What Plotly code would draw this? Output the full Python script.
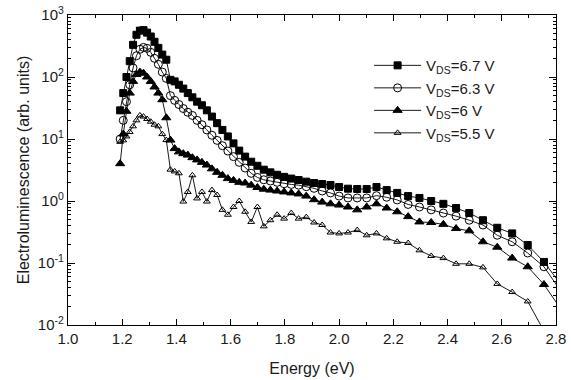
import plotly.graph_objects as go

# Photon energy (eV)
energy = [1.1923, 1.2039, 1.2157, 1.2277, 1.2400, 1.2525, 1.2653, 1.2784, 1.2917, 1.3053,
          1.3191, 1.3333, 1.3478, 1.3626, 1.3778, 1.3933, 1.4091, 1.4253, 1.4419, 1.4588,
          1.4762, 1.4940, 1.5122, 1.5309, 1.5500, 1.5696, 1.5897, 1.6104, 1.6316, 1.6533,
          1.6757, 1.6986, 1.7222, 1.7465, 1.7714, 1.7971, 1.8235, 1.8507, 1.8788, 1.9077,
          1.9375, 1.9683, 2.0000, 2.0328, 2.0667, 2.1017, 2.1379, 2.1754, 2.2143, 2.2545,
          2.2963, 2.3396, 2.3846, 2.4314, 2.4800, 2.5306, 2.5833, 2.6383, 2.6957, 2.7556,
          2.8182]

el_67 = [29, 55, 100, 180, 330, 480, 560, 570, 520, 450,
         370, 295, 230, 190, 90, 85, 75, 65, 55, 47,
         40, 35, 29, 23, 18, 14, 11, 8.5, 6.5, 5.2,
         4.3, 3.7, 3.2, 2.9, 2.65, 2.45, 2.3, 2.18, 2.05, 1.95,
         1.88, 1.81, 1.68, 1.58, 1.56, 1.56, 1.68, 1.5, 1.35, 1.2,
         1.12, 1.0, 0.9, 0.77, 0.64, 0.49, 0.37, 0.30, 0.195, 0.104,
         0.045]

el_63 = [10, 20, 40, 75, 140, 220, 280, 300, 290, 250,
         200, 160, 120, 95, 50, 42, 36, 31, 27, 24,
         20, 17, 14, 11.5, 9.5, 7.8, 6.4, 5.2, 4.2, 3.4,
         2.8, 2.4, 2.2, 2.1, 2.0, 1.9, 1.85, 1.8, 1.7, 1.6,
         1.45, 1.35, 1.2, 1.12, 1.12, 1.12, 1.22, 1.15, 1.04, 0.88,
         0.8, 0.72, 0.64, 0.57, 0.49, 0.41, 0.28, 0.22, 0.145, 0.087,
         0.035]

el_60 = [4.0, 12, 28, 55, 85, 110, 120, 115, 100, 85,
         69, 55, 43, 22, 9.6, 7.0, 6.2, 5.8, 5.5, 5.0,
         4.6, 4.2, 3.8, 3.3, 2.9, 2.6, 2.3, 2.15, 2.0, 1.95,
         1.8, 1.65, 1.55, 1.5, 1.45, 1.4, 1.35, 1.3, 1.2, 1.05,
         0.96, 0.9, 0.86, 0.8, 0.72, 0.8, 0.9, 0.77, 0.67, 0.56,
         0.46, 0.45, 0.42, 0.36, 0.33, 0.22, 0.18, 0.12, 0.087, 0.045,
         0.018]

el_55 = [9.0, 9.5, 11, 13, 16, 20, 24, 23, 21, 19,
         17, 16, 12, 9.6, 3.2, 3.0, 2.8, 0.98, 1.4, 2.6,
         1.1, 1.4, 0.98, 1.5, 1.25, 0.72, 0.6, 0.8, 1.0, 0.67,
         0.46, 0.8, 0.39, 0.49, 0.6, 0.52, 0.64, 0.52, 0.55, 0.45,
         0.41, 0.31, 0.30, 0.31, 0.34, 0.28, 0.30, 0.25, 0.22, 0.21,
         0.16, 0.13, 0.12, 0.097, 0.097, 0.085, 0.046, 0.034, 0.024, 0.008,
         0.005]

names = ["V<sub>DS</sub>=6.7 V", "V<sub>DS</sub>=6.3 V", "V<sub>DS</sub>=6 V", "V<sub>DS</sub>=5.5 V"]

y_tickvals = [0.01, 0.1, 1, 10, 100, 1000]
y_ticktext = ["10<sup>-2</sup>", "10<sup>-1</sup>", "10<sup>0</sup>", "10<sup>1</sup>", "10<sup>2</sup>", "10<sup>3</sup>"]

series = [
    (el_67, "square", "black", 7),
    (el_63, "circle-open", "black", 8),
    (el_60, "triangle-up", "black", 8),
    (el_55, "triangle-up-open", "black", 6),
]

fig = go.Figure()
for (vals, sym, col, size), nm in zip(series, names):
    fig.add_trace(go.Scatter(
        x=energy, y=vals, name=nm, mode="lines+markers",
        line=dict(color="black", width=0.9),
        marker=dict(symbol=sym, size=size, color=col,
                    line=dict(color="black", width=1)),
    ))

font_family = "Liberation Sans, Arial, Helvetica, sans-serif"
minor_y = [m * 10 ** e for e in range(-2, 3) for m in range(2, 10)]

fig.update_layout(
    width=571, height=380,
    margin=dict(l=68, r=15, t=15, b=55),
    paper_bgcolor="white", plot_bgcolor="white",
    font=dict(family=font_family, size=15, color="#1a1a1a"),
    showlegend=True,
    legend=dict(x=0.617, y=0.89, xanchor="left", yanchor="top",
                bgcolor="rgba(0,0,0,0)", font=dict(size=15),
                tracegroupgap=0, itemwidth=47),
    xaxis=dict(
        range=[1.0, 2.8], dtick=0.2, tick0=1.0, tickformat=".1f",
        showline=True, linecolor="black", linewidth=1.2, mirror="ticks",
        ticks="inside", ticklen=6, tickcolor="black",
        minor=dict(dtick=0.1, ticks="inside", ticklen=3, tickcolor="black"),
        showgrid=False, zeroline=False, automargin=False,
        title=dict(text="Energy (eV)", font=dict(size=16), standoff=16),
        tickfont=dict(size=15),
    ),
    yaxis=dict(
        type="log", range=[-2, 3],
        tickmode="array", tickvals=y_tickvals, ticktext=y_ticktext,
        showline=True, linecolor="black", linewidth=1.2, mirror="ticks",
        ticks="inside", ticklen=7, tickcolor="black",
        minor=dict(tickmode="array", tickvals=minor_y, ticks="inside", ticklen=3, tickcolor="black"),
        showgrid=False, zeroline=False, automargin=False,
        title=dict(text="Electroluminescence (arb. units)", font=dict(size=16), standoff=4),
        tickfont=dict(size=15),
    ),
)

fig.write_html("out.html",
               config={"displayModeBar": False},
               post_script="document.body.style.margin='0';document.body.style.overflow='hidden';")
